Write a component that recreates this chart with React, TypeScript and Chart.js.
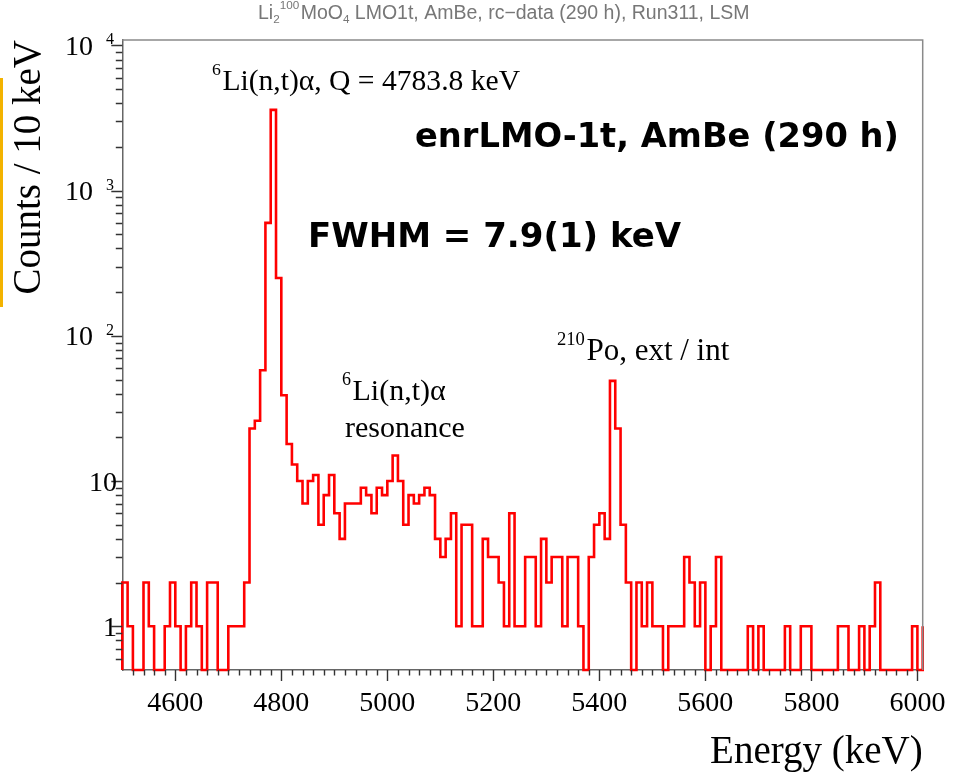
import React, { useEffect, useRef } from 'react';
import { Chart, registerables } from 'chart.js';

Chart.register(...registerables);

// ---------------- data ----------------
const BIN_START = 4500; // keV, left edge of first bin
const BIN_WIDTH = 10; // keV
// counts per 10 keV bin, bins starting at 4500, 4510, ... 6010
const counts: number[] = [
  2, 1, 0, 0, 2, 1, 0, 0, 1, 2, // 4500
  1, 0, 1, 2, 1, 0, 2, 2, 0, 0, // 4600
  1, 1, 1, 2, 23, 26, 58, 600, 3600, 250, // 4700
  39, 18, 13, 10, 7, 10, 11, 5, 8, 11, // 4800
  6, 4, 7, 7, 7, 9, 8, 6, 9, 8, // 4900
  10, 15, 10, 5, 8, 7, 8, 9, 8, 4, // 5000
  3, 4, 6, 1, 5, 5, 1, 1, 4, 3, // 5100
  3, 2, 1, 6, 1, 1, 3, 3, 1, 4, // 5200
  2, 3, 3, 1, 3, 3, 1, 0, 3, 5, // 5300
  6, 4, 49, 23, 5, 2, 0, 2, 1, 2, // 5400
  1, 1, 0, 1, 1, 1, 3, 2, 1, 2, // 5500
  0, 1, 3, 0, 0, 0, 0, 0, 1, 0, // 5600
  1, 0, 0, 0, 0, 1, 0, 0, 1, 1, // 5700
  0, 0, 0, 0, 0, 1, 1, 0, 0, 1, // 5800
  0, 1, 2, 0, 0, 0, 0, 0, 0, 1, // 5900
  0, 1, // 6000, 6010
];
const binStarts: number[] = counts.map((_, i) => BIN_START + i * BIN_WIDTH);

const X_MIN = 4500;
const X_MAX = 6010;
const Y_MIN = 0.5;
const Y_MAX = 10900;

const xMajorTicks = [4600, 4800, 5000, 5200, 5400, 5600, 5800, 6000];
const X_MINOR_STEP = 20;
const yMajorTicks = [1, 10, 100, 1000, 10000];
const yTickBase = ['1', '10', '10', '10', '10'];
const yTickExp = ['', '', '2', '3', '4'];
const yMinorTicks = [
  0.6, 0.7, 0.8, 0.9,
  2, 3, 4, 5, 6, 7, 8, 9,
  20, 30, 40, 50, 60, 70, 80, 90,
  200, 300, 400, 500, 600, 700, 800, 900,
  2000, 3000, 4000, 5000, 6000, 7000, 8000, 9000,
];

const TITLE_Y = 'Counts / 10 keV';
const TITLE_X = 'Energy (keV)';

type Seg = { t: string; s?: 'sup' | 'sub' };
type Note = { segs: Seg[]; x: number; y: number; size: number; family: string; weight: string; color: string };

const SERIF = '"Liberation Serif", "Times New Roman", serif';
const BOLD_SANS = '"DejaVu Sans", Verdana, sans-serif';
const SANS = '"Liberation Sans", Arial, sans-serif';

const notes: Note[] = [
  {
    segs: [{ t: 'Li' }, { t: '2', s: 'sub' }, { t: '100', s: 'sup' }, { t: 'MoO' }, { t: '4', s: 'sub' }, { t: ' LMO1t, AmBe, rc\u2212data (290 h), Run311, LSM' }],
    x: 258, y: 19, size: 19.5, family: SANS, weight: 'normal', color: '#777777',
  },
  { segs: [{ t: '6', s: 'sup' }, { t: 'Li(n,t)\u03b1, Q = 4783.8 keV' }], x: 212, y: 90, size: 29.6, family: SERIF, weight: 'normal', color: '#000' },
  { segs: [{ t: 'enrLMO-1t, AmBe (290 h)' }], x: 415, y: 147, size: 33.7, family: BOLD_SANS, weight: 'bold', color: '#000' },
  { segs: [{ t: 'FWHM = 7.9(1) keV' }], x: 308, y: 247, size: 34, family: BOLD_SANS, weight: 'bold', color: '#000' },
  { segs: [{ t: '6', s: 'sup' }, { t: 'Li(n,t)\u03b1' }], x: 342, y: 400, size: 30, family: SERIF, weight: 'normal', color: '#000' },
  { segs: [{ t: 'resonance' }], x: 345, y: 437, size: 30, family: SERIF, weight: 'normal', color: '#000' },
  { segs: [{ t: '210', s: 'sup' }, { t: 'Po, ext / int' }], x: 557, y: 360, size: 31, family: SERIF, weight: 'normal', color: '#000' },
];

function drawRich(ctx: CanvasRenderingContext2D, n: Note) {
  let cx = n.x;
  ctx.fillStyle = n.color;
  ctx.textAlign = 'left';
  ctx.textBaseline = 'alphabetic';
  for (const seg of n.segs) {
    const fs = seg.s ? n.size * 0.6 : n.size;
    const dy = seg.s === 'sup' ? -n.size * 0.5 : seg.s === 'sub' ? n.size * 0.22 : 0;
    ctx.font = `${n.weight} ${fs}px ${n.family}`;
    ctx.fillText(seg.t, cx, n.y + dy);
    cx += ctx.measureText(seg.t).width + (seg.s === 'sup' ? 1.5 : 0);
  }
}

const decorPlugin = {
  id: 'decor',
  afterDraw(chart: any) {
    const { ctx, chartArea: a, scales } = chart;
    const xs = scales.x;
    const ys = scales.y;
    ctx.save();
    // top and right frame
    ctx.strokeStyle = '#8a8a8a';
    ctx.lineWidth = 1.5;
    ctx.beginPath();
    ctx.moveTo(a.left, a.top);
    ctx.lineTo(a.right, a.top);
    ctx.lineTo(a.right, a.bottom);
    ctx.stroke();

    // tick marks
    ctx.strokeStyle = '#333';
    ctx.lineWidth = 1.4;
    ctx.beginPath();
    for (let v = X_MIN + X_MINOR_STEP; v <= X_MAX; v += X_MINOR_STEP) {
      const px = Math.round(xs.getPixelForValue(v)) + 0.5;
      const len = xMajorTicks.includes(v) ? 11 : 5.5;
      ctx.moveTo(px, a.bottom);
      ctx.lineTo(px, a.bottom + len);
    }
    for (const v of yMajorTicks) {
      const py = Math.round(ys.getPixelForValue(v)) + 0.5;
      ctx.moveTo(a.left, py);
      ctx.lineTo(a.left - 11, py);
    }
    for (const v of yMinorTicks) {
      const py = Math.round(ys.getPixelForValue(v)) + 0.5;
      ctx.moveTo(a.left, py);
      ctx.lineTo(a.left - 6.5, py);
    }
    ctx.stroke();

    // y tick labels (10 with exponent)
    ctx.fillStyle = '#000';
    ctx.textBaseline = 'alphabetic';
    yMajorTicks.forEach((v, i) => {
      const py = ys.getPixelForValue(v);
      ctx.textAlign = 'right';
      if (yTickExp[i]) {
        ctx.font = `16px ${SERIF}`;
        ctx.fillText(yTickExp[i], 114, py - 1);
        ctx.font = `28px ${SERIF}`;
        ctx.fillText(yTickBase[i], 93, py + 9.5);
      } else {
        ctx.font = `28px ${SERIF}`;
        ctx.fillText(yTickBase[i], 117, py + 9.5);
      }
    });

    for (const n of notes) drawRich(ctx, n);
    ctx.restore();
  },
};

export default function App() {
  const ref = useRef<HTMLCanvasElement | null>(null);

  useEffect(() => {
    if (!ref.current) return;
    const points = [
      { x: BIN_START, y: Y_MIN },
      ...counts.map((c, i) => ({ x: binStarts[i], y: c > 0 ? c : Y_MIN })),
    ];
    const chart = new Chart(ref.current, {
      type: 'line',
      data: {
        datasets: [
          {
            data: points,
            borderColor: '#ff0000',
            borderWidth: 2.6,
            stepped: 'before',
            pointRadius: 0,
            fill: false,
            clip: { left: 2, right: 2, top: 2, bottom: 3 } as any,
          },
        ],
      },
      options: {
        animation: false,
        responsive: false,
        devicePixelRatio: 1,
        events: [],
        layout: { padding: { left: 0, top: 40, right: 30.3, bottom: 0 } },
        plugins: { legend: { display: false }, tooltip: { enabled: false }, title: { display: false } },
        scales: {
          x: {
            type: 'linear',
            min: X_MIN,
            max: X_MAX,
            afterBuildTicks: (scale: any) => {
              scale.ticks = xMajorTicks.map((v) => ({ value: v }));
            },
            afterFit: (scale: any) => {
              scale.height = 103;
              scale.paddingLeft = 0;
              scale.paddingRight = 0;
            },
            grid: { display: false, drawTicks: false },
            border: { display: true, color: '#666', width: 1.5 },
            ticks: {
              autoSkip: false,
              maxRotation: 0,
              padding: 17,
              color: '#000',
              font: { family: SERIF, size: 28 },
              callback: (v: any) => String(v),
            },
            title: {
              display: true,
              text: TITLE_X,
              align: 'end',
              color: '#000',
              font: { family: SERIF, size: 39, lineHeight: 1 },
              padding: { top: 0, bottom: 1 },
            },
          },
          y: {
            type: 'logarithmic',
            min: Y_MIN,
            max: Y_MAX,
            afterBuildTicks: (scale: any) => {
              scale.ticks = yMajorTicks.map((v) => ({ value: v }));
            },
            afterFit: (scale: any) => {
              scale.width = 122.3;
              scale.paddingTop = 0;
              scale.paddingBottom = 0;
            },
            grid: { display: false, drawTicks: false },
            border: { display: true, color: '#666', width: 1.5 },
            ticks: { display: false },
            title: {
              display: true,
              text: TITLE_Y,
              align: 'end',
              color: '#000',
              font: { family: SERIF, size: 39, lineHeight: 1 },
              padding: { top: 10, bottom: 0 },
            },
          },
        },
      },
      plugins: [decorPlugin],
    } as any);
    return () => chart.destroy();
  }, []);

  return (
    <div style={{ position: 'absolute', left: 0, top: 0, width: 953, height: 773, background: '#fff' }}>
      <div style={{ position: 'absolute', left: 0, top: 78, width: 3, height: 229, background: '#f3b300' }} />
      <canvas ref={ref} width={953} height={773} style={{ position: 'absolute', left: 0, top: 0, display: 'block' }} />
    </div>
  );
}
